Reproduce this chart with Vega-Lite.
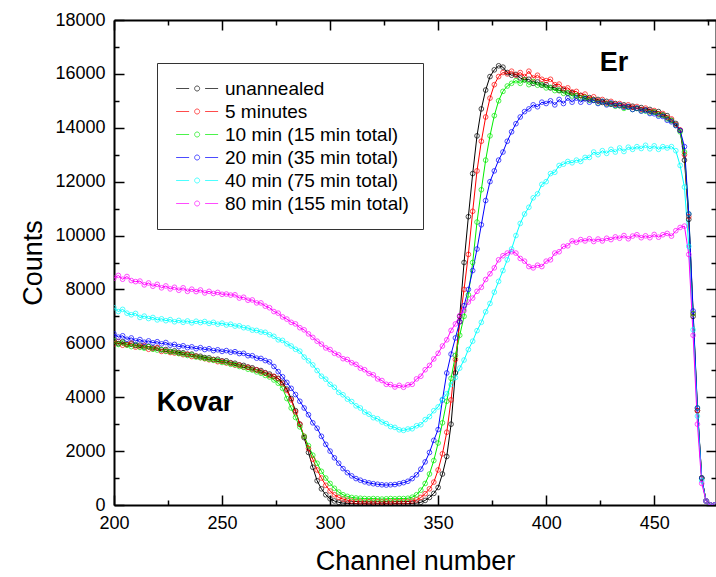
{
  "$schema": "https://vega.github.io/schema/vega-lite/v6.json",
  "width": 602,
  "height": 485,
  "autosize": "none",
  "padding": {"left": 114, "top": 20, "right": 0, "bottom": 72},
  "config": {"view": {"stroke": null}, "font": "Liberation Sans", "axis": {"grid": false}},
  "datasets": {
    "names": [
      {"k": "u", "name": "unannealed"},
      {"k": "r", "name": "5 minutes"},
      {"k": "g", "name": "10 min (15 min total)"},
      {"k": "b", "name": "20 min (35 min total)"},
      {"k": "c", "name": "40 min (75 min total)"},
      {"k": "m", "name": "80 min (155 min total)"}
    ],
    "spectra": [
      {"ch":200,"u":6080,"r":5980,"g":6090,"b":6350,"c":7320,"m":8420},
      {"ch":202,"u":5990,"r":6070,"g":5960,"b":6230,"c":7180,"m":8520},
      {"ch":204,"u":6060,"r":5930,"g":6020,"b":6280,"c":7260,"m":8380},
      {"ch":206,"u":5960,"r":5950,"g":5930,"b":6150,"c":7120,"m":8480},
      {"ch":208,"u":5980,"r":6010,"g":5880,"b":6200,"c":7060,"m":8330},
      {"ch":210,"u":5920,"r":5860,"g":5950,"b":6090,"c":7110,"m":8290},
      {"ch":212,"u":5930,"r":5880,"g":5850,"b":6140,"c":6960,"m":8310},
      {"ch":214,"u":5860,"r":5920,"g":5820,"b":6040,"c":7010,"m":8170},
      {"ch":216,"u":5880,"r":5780,"g":5870,"b":6090,"c":6920,"m":8240},
      {"ch":218,"u":5830,"r":5800,"g":5780,"b":6020,"c":6960,"m":8120},
      {"ch":220,"u":5820,"r":5840,"g":5750,"b":6060,"c":6870,"m":8190},
      {"ch":222,"u":5760,"r":5700,"g":5770,"b":5980,"c":6910,"m":8060},
      {"ch":224,"u":5770,"r":5720,"g":5700,"b":6030,"c":6840,"m":8130},
      {"ch":226,"u":5700,"r":5660,"g":5690,"b":5930,"c":6880,"m":8020},
      {"ch":228,"u":5720,"r":5640,"g":5670,"b":5960,"c":6800,"m":8080},
      {"ch":230,"u":5660,"r":5630,"g":5620,"b":5880,"c":6850,"m":7970},
      {"ch":232,"u":5650,"r":5580,"g":5610,"b":5910,"c":6780,"m":8060},
      {"ch":234,"u":5590,"r":5600,"g":5550,"b":5840,"c":6830,"m":7930},
      {"ch":236,"u":5600,"r":5510,"g":5570,"b":5870,"c":6760,"m":8010},
      {"ch":238,"u":5530,"r":5520,"g":5490,"b":5800,"c":6820,"m":7920},
      {"ch":240,"u":5520,"r":5470,"g":5470,"b":5840,"c":6770,"m":7980},
      {"ch":242,"u":5470,"r":5430,"g":5440,"b":5770,"c":6810,"m":7870},
      {"ch":244,"u":5460,"r":5390,"g":5410,"b":5800,"c":6740,"m":7930},
      {"ch":246,"u":5400,"r":5390,"g":5370,"b":5730,"c":6780,"m":7850},
      {"ch":248,"u":5410,"r":5320,"g":5360,"b":5760,"c":6710,"m":7890},
      {"ch":250,"u":5350,"r":5330,"g":5290,"b":5700,"c":6750,"m":7820},
      {"ch":252,"u":5350,"r":5270,"g":5290,"b":5730,"c":6680,"m":7830},
      {"ch":254,"u":5280,"r":5260,"g":5220,"b":5670,"c":6710,"m":7790},
      {"ch":256,"u":5260,"r":5190,"g":5210,"b":5690,"c":6640,"m":7800},
      {"ch":258,"u":5200,"r":5190,"g":5140,"b":5620,"c":6650,"m":7680},
      {"ch":260,"u":5180,"r":5120,"g":5110,"b":5630,"c":6580,"m":7710},
      {"ch":262,"u":5120,"r":5110,"g":5040,"b":5540,"c":6570,"m":7600},
      {"ch":264,"u":5090,"r":5040,"g":5010,"b":5540,"c":6490,"m":7610},
      {"ch":266,"u":5020,"r":5010,"g":4940,"b":5450,"c":6480,"m":7500},
      {"ch":268,"u":4990,"r":4940,"g":4890,"b":5440,"c":6420,"m":7500},
      {"ch":270,"u":4910,"r":4890,"g":4810,"b":5360,"c":6410,"m":7380},
      {"ch":272,"u":4860,"r":4810,"g":4750,"b":5310,"c":6320,"m":7320},
      {"ch":274,"u":4770,"r":4770,"g":4640,"b":5140,"c":6260,"m":7180},
      {"ch":276,"u":4700,"r":4680,"g":4520,"b":4950,"c":6130,"m":7120},
      {"ch":278,"u":4550,"r":4500,"g":4330,"b":4760,"c":6110,"m":6980},
      {"ch":280,"u":4300,"r":4250,"g":3950,"b":4550,"c":5980,"m":6900},
      {"ch":282,"u":3950,"r":3900,"g":3600,"b":4330,"c":5900,"m":6780},
      {"ch":284,"u":3500,"r":3450,"g":3250,"b":4100,"c":5780,"m":6720},
      {"ch":286,"u":3000,"r":3000,"g":2900,"b":3850,"c":5710,"m":6580},
      {"ch":288,"u":2500,"r":2550,"g":2550,"b":3600,"c":5490,"m":6500},
      {"ch":290,"u":1950,"r":2100,"g":2200,"b":3350,"c":5350,"m":6350},
      {"ch":292,"u":1400,"r":1700,"g":1850,"b":3050,"c":5200,"m":6220},
      {"ch":294,"u":900,"r":1300,"g":1550,"b":2850,"c":4990,"m":6080},
      {"ch":296,"u":600,"r":1000,"g":1250,"b":2550,"c":4780,"m":5970},
      {"ch":298,"u":380,"r":730,"g":1000,"b":2250,"c":4670,"m":5830},
      {"ch":300,"u":230,"r":520,"g":800,"b":2000,"c":4480,"m":5770},
      {"ch":302,"u":150,"r":380,"g":620,"b":1750,"c":4370,"m":5630},
      {"ch":304,"u":100,"r":280,"g":480,"b":1550,"c":4180,"m":5570},
      {"ch":306,"u":70,"r":220,"g":380,"b":1350,"c":4090,"m":5430},
      {"ch":308,"u":60,"r":180,"g":320,"b":1200,"c":3930,"m":5400},
      {"ch":310,"u":50,"r":150,"g":280,"b":1080,"c":3840,"m":5280},
      {"ch":312,"u":50,"r":130,"g":260,"b":980,"c":3680,"m":5220},
      {"ch":314,"u":40,"r":120,"g":250,"b":920,"c":3600,"m":5080},
      {"ch":316,"u":50,"r":110,"g":240,"b":860,"c":3450,"m":5020},
      {"ch":318,"u":40,"r":120,"g":230,"b":820,"c":3370,"m":4880},
      {"ch":320,"u":40,"r":110,"g":240,"b":790,"c":3240,"m":4830},
      {"ch":322,"u":50,"r":120,"g":230,"b":770,"c":3200,"m":4680},
      {"ch":324,"u":40,"r":110,"g":220,"b":750,"c":3080,"m":4620},
      {"ch":326,"u":50,"r":120,"g":230,"b":740,"c":3020,"m":4480},
      {"ch":328,"u":40,"r":110,"g":240,"b":750,"c":2910,"m":4470},
      {"ch":330,"u":50,"r":120,"g":230,"b":760,"c":2880,"m":4380},
      {"ch":332,"u":50,"r":120,"g":240,"b":790,"c":2790,"m":4440},
      {"ch":334,"u":50,"r":120,"g":240,"b":830,"c":2770,"m":4370},
      {"ch":336,"u":50,"r":130,"g":250,"b":880,"c":2820,"m":4460},
      {"ch":338,"u":60,"r":150,"g":290,"b":980,"c":2830,"m":4480},
      {"ch":340,"u":70,"r":190,"g":380,"b":1120,"c":2940,"m":4680},
      {"ch":342,"u":100,"r":280,"g":550,"b":1330,"c":2980,"m":4780},
      {"ch":344,"u":170,"r":420,"g":800,"b":1600,"c":3170,"m":5020},
      {"ch":346,"u":280,"r":600,"g":1150,"b":1950,"c":3280,"m":5180},
      {"ch":348,"u":430,"r":850,"g":1650,"b":2400,"c":3500,"m":5420},
      {"ch":350,"u":650,"r":1300,"g":2300,"b":2800,"c":3640,"m":5630},
      {"ch":352,"u":1150,"r":1900,"g":3050,"b":3900,"c":3920,"m":5900},
      {"ch":354,"u":1800,"r":2700,"g":3850,"b":4900,"c":4130,"m":6130},
      {"ch":356,"u":3000,"r":3900,"g":4700,"b":5600,"c":4470,"m":6480},
      {"ch":358,"u":4900,"r":5400,"g":5550,"b":6200,"c":4730,"m":6720},
      {"ch":360,"u":7000,"r":6800,"g":6300,"b":6800,"c":5080,"m":7030},
      {"ch":362,"u":9000,"r":8000,"g":7000,"b":7400,"c":5380,"m":7220},
      {"ch":364,"u":10700,"r":9300,"g":7800,"b":8000,"c":5770,"m":7530},
      {"ch":366,"u":12300,"r":10900,"g":9000,"b":8700,"c":6080,"m":7680},
      {"ch":368,"u":13700,"r":12400,"g":10500,"b":9500,"c":6470,"m":7930},
      {"ch":370,"u":14700,"r":13500,"g":11700,"b":10400,"c":6780,"m":8080},
      {"ch":372,"u":15400,"r":14400,"g":12800,"b":11300,"c":7170,"m":8370},
      {"ch":374,"u":15900,"r":15100,"g":13700,"b":12000,"c":7480,"m":8580},
      {"ch":376,"u":16150,"r":15600,"g":14450,"b":12400,"c":7900,"m":8800},
      {"ch":378,"u":16300,"r":15900,"g":15000,"b":12800,"c":8300,"m":9100},
      {"ch":380,"u":16250,"r":16050,"g":15350,"b":13100,"c":8700,"m":9250},
      {"ch":382,"u":16050,"r":16000,"g":15550,"b":13500,"c":9100,"m":9350},
      {"ch":384,"u":15950,"r":16100,"g":15650,"b":13850,"c":9500,"m":9400},
      {"ch":386,"u":15980,"r":15950,"g":15750,"b":14150,"c":10000,"m":9350},
      {"ch":388,"u":15850,"r":16050,"g":15650,"b":14400,"c":10450,"m":9150},
      {"ch":390,"u":15780,"r":15900,"g":15780,"b":14600,"c":10800,"m":9050},
      {"ch":392,"u":15800,"r":16100,"g":15600,"b":14700,"c":11050,"m":8850},
      {"ch":394,"u":15650,"r":15850,"g":15720,"b":14850,"c":11400,"m":8800},
      {"ch":396,"u":15700,"r":15950,"g":15580,"b":14780,"c":11550,"m":8900},
      {"ch":398,"u":15580,"r":15800,"g":15600,"b":14950,"c":11900,"m":8850},
      {"ch":400,"u":15600,"r":15750,"g":15480,"b":14900,"c":12000,"m":9050},
      {"ch":402,"u":15480,"r":15800,"g":15500,"b":15000,"c":12300,"m":9100},
      {"ch":404,"u":15500,"r":15600,"g":15380,"b":14850,"c":12350,"m":9350},
      {"ch":406,"u":15380,"r":15620,"g":15400,"b":15050,"c":12600,"m":9400},
      {"ch":408,"u":15400,"r":15450,"g":15280,"b":14900,"c":12650,"m":9600},
      {"ch":410,"u":15280,"r":15480,"g":15300,"b":15100,"c":12750,"m":9620},
      {"ch":412,"u":15300,"r":15330,"g":15180,"b":14950,"c":12700,"m":9800},
      {"ch":414,"u":15180,"r":15350,"g":15200,"b":15100,"c":12800,"m":9750},
      {"ch":416,"u":15200,"r":15200,"g":15100,"b":14950,"c":12750,"m":9850},
      {"ch":418,"u":15080,"r":15250,"g":15130,"b":15080,"c":12900,"m":9800},
      {"ch":420,"u":15120,"r":15080,"g":15020,"b":14950,"c":12900,"m":9880},
      {"ch":422,"u":15020,"r":15150,"g":15040,"b":15020,"c":13100,"m":9780},
      {"ch":424,"u":15050,"r":15000,"g":14920,"b":14900,"c":13000,"m":9870},
      {"ch":426,"u":14940,"r":15050,"g":14980,"b":14980,"c":13150,"m":9800},
      {"ch":428,"u":14980,"r":14920,"g":14880,"b":14850,"c":13050,"m":9900},
      {"ch":430,"u":14870,"r":14980,"g":14900,"b":14920,"c":13200,"m":9850},
      {"ch":432,"u":14900,"r":14870,"g":14800,"b":14830,"c":13100,"m":9950},
      {"ch":434,"u":14820,"r":14900,"g":14830,"b":14850,"c":13250,"m":9900},
      {"ch":436,"u":14850,"r":14800,"g":14720,"b":14760,"c":13120,"m":10000},
      {"ch":438,"u":14770,"r":14850,"g":14770,"b":14790,"c":13280,"m":9880},
      {"ch":440,"u":14800,"r":14760,"g":14680,"b":14680,"c":13200,"m":9980},
      {"ch":442,"u":14720,"r":14790,"g":14720,"b":14730,"c":13300,"m":10030},
      {"ch":444,"u":14750,"r":14680,"g":14630,"b":14620,"c":13230,"m":9920},
      {"ch":446,"u":14670,"r":14730,"g":14620,"b":14640,"c":13350,"m":9990},
      {"ch":448,"u":14680,"r":14620,"g":14560,"b":14530,"c":13220,"m":9920},
      {"ch":450,"u":14590,"r":14640,"g":14580,"b":14520,"c":13330,"m":10040},
      {"ch":452,"u":14600,"r":14520,"g":14480,"b":14430,"c":13200,"m":9940},
      {"ch":454,"u":14480,"r":14530,"g":14460,"b":14420,"c":13300,"m":10030},
      {"ch":456,"u":14450,"r":14380,"g":14330,"b":14280,"c":13250,"m":10080},
      {"ch":458,"u":14280,"r":14330,"g":14260,"b":14220,"c":13300,"m":9980},
      {"ch":460,"u":14160,"r":14120,"g":14090,"b":14080,"c":13150,"m":10180},
      {"ch":462,"u":13900,"r":13920,"g":13850,"b":13900,"c":12600,"m":10300},
      {"ch":464,"u":12800,"r":13000,"g":13100,"b":13300,"c":11800,"m":10350},
      {"ch":466,"u":10600,"r":10700,"g":10800,"b":10800,"c":9600,"m":9300},
      {"ch":468,"u":7000,"r":7100,"g":7100,"b":7200,"c":6500,"m":6300},
      {"ch":470,"u":3500,"r":3500,"g":3600,"b":3600,"c":3300,"m":3000},
      {"ch":472,"u":1000,"r":1000,"g":1000,"b":1000,"c":900,"m":800},
      {"ch":474,"u":150,"r":150,"g":150,"b":150,"c":150,"m":150},
      {"ch":476,"u":0,"r":0,"g":0,"b":0,"c":0,"m":0},
      {"ch":478,"u":0,"r":0,"g":0,"b":0,"c":0,"m":0}
    ],
    "annotations": [
      {"t": "Er", "x": 431.4, "y": 16400},
      {"t": "Kovar", "x": 237.5, "y": 3790}
    ]
  },
  "layer": [
    {
      "data": {"name": "spectra"},
      "transform": [
        {"fold": ["u", "r", "g", "b", "c", "m"], "as": ["k", "counts"]},
        {"lookup": "k", "from": {"data": {"name": "names"}, "key": "k", "fields": ["name"]}}
      ],
      "mark": {"type": "line", "strokeWidth": 1, "clip": true},
      "encoding": {
        "x": {
          "field": "ch", "type": "quantitative",
          "scale": {"domain": [200, 478.6], "nice": false, "zero": false},
          "axis": {
            "orient": "bottom",
            "values": [200,225,250,275,300,325,350,375,400,425,450,475],
            "labelExpr": "datum.value % 50 === 0 ? datum.label : ''",
            "tickSize": {"condition": {"test": "datum.value % 50 === 0", "value": -10}, "value": -5},
            "labelPadding": 19,
            "labelFontSize": 18, "labelColor": "black", "labelFont": "Liberation Sans",
            "labelOverlap": false, "labelFlush": false,
            "tickColor": "black", "tickWidth": 1.5,
            "domainColor": "black", "domainWidth": 2,
            "title": "Channel number", "titleFontSize": 27, "titleFontWeight": "normal",
            "titleColor": "black", "titleFont": "Liberation Sans", "titlePadding": 11
          }
        },
        "y": {
          "field": "counts", "type": "quantitative",
          "scale": {"domain": [0, 18000], "nice": false},
          "axis": {
            "orient": "left",
            "values": [0,1000,2000,3000,4000,5000,6000,7000,8000,9000,10000,11000,12000,13000,14000,15000,16000,17000,18000],
            "format": "d",
            "labelExpr": "datum.value % 2000 === 0 ? datum.label : ''",
            "tickSize": {"condition": {"test": "datum.value % 2000 === 0", "value": -10}, "value": -5},
            "labelPadding": 19,
            "labelFontSize": 18, "labelColor": "black", "labelFont": "Liberation Sans",
            "labelOverlap": false, "labelFlush": false,
            "tickColor": "black", "tickWidth": 1.5,
            "domainColor": "black", "domainWidth": 2,
            "title": "Counts", "titleFontSize": 27, "titleFontWeight": "normal",
            "titleColor": "black", "titleFont": "Liberation Sans", "titlePadding": 7
          }
        },
        "color": {
          "field": "name", "type": "nominal",
          "scale": {
            "domain": ["unannealed", "5 minutes", "10 min (15 min total)", "20 min (35 min total)", "40 min (75 min total)", "80 min (155 min total)"],
            "range": ["#000000", "#ff0000", "#00ee00", "#0000ff", "#00ffff", "#ff00ff"]
          },
          "legend": {
            "orient": "none", "legendX": 43, "legendY": 43,
            "title": null,
            "symbolType": "M-0.78,0L-0.16,0M0.6,0L1.22,0M0.34,0A0.12,0.12,0,1,1,0.1,0A0.12,0.12,0,1,1,0.34,0",
            "symbolSize": 1764, "symbolStrokeWidth": 1, "symbolFillColor": "transparent",
            "clipHeight": 23, "rowPadding": 0,
            "labelFontSize": 19, "labelFont": "Liberation Sans", "labelColor": "black",
            "labelOffset": 11, "labelLimit": 400,
            "padding": 14, "strokeColor": "#333333"
          }
        }
      }
    },
    {
      "data": {"name": "spectra"},
      "transform": [
        {"fold": ["u", "r", "g", "b", "c", "m"], "as": ["k", "counts"]},
        {"lookup": "k", "from": {"data": {"name": "names"}, "key": "k", "fields": ["name"]}}
      ],
      "mark": {"type": "point", "filled": false, "size": 22, "strokeWidth": 1, "clip": true},
      "encoding": {
        "x": {
          "field": "ch", "type": "quantitative",
          "axis": {
            "orient": "top",
            "values": [200,225,250,275,300,325,350,375,400,425,450,475],
            "labels": false, "title": null,
            "tickSize": {"condition": {"test": "datum.value % 50 === 0", "value": -10}, "value": -5},
            "tickColor": "black", "tickWidth": 1.5,
            "domainColor": "black", "domainWidth": 2
          }
        },
        "y": {
          "field": "counts", "type": "quantitative",
          "axis": {
            "orient": "right",
            "values": [0,1000,2000,3000,4000,5000,6000,7000,8000,9000,10000,11000,12000,13000,14000,15000,16000,17000,18000],
            "labels": false, "title": null,
            "tickSize": {"condition": {"test": "datum.value % 2000 === 0", "value": -10}, "value": -5},
            "tickColor": "black", "tickWidth": 1.5,
            "domainColor": "black", "domainWidth": 2
          }
        },
        "color": {
          "field": "name", "type": "nominal",
          "legend": {
            "orient": "none", "legendX": 43, "legendY": 43,
            "title": null,
            "symbolType": "M-0.78,0L-0.16,0M0.6,0L1.22,0M0.34,0A0.12,0.12,0,1,1,0.1,0A0.12,0.12,0,1,1,0.34,0",
            "symbolSize": 1764, "symbolStrokeWidth": 1, "symbolFillColor": "transparent",
            "clipHeight": 23, "rowPadding": 0,
            "labelFontSize": 19, "labelFont": "Liberation Sans", "labelColor": "black",
            "labelOffset": 11, "labelLimit": 400,
            "padding": 14, "strokeColor": "#333333"
          }
        }
      }
    },
    {
      "data": {"name": "annotations"},
      "mark": {"type": "text", "fontSize": 27, "fontWeight": "bold", "font": "Liberation Sans", "color": "black", "align": "center", "baseline": "middle"},
      "encoding": {
        "x": {"field": "x", "type": "quantitative", "axis": null},
        "y": {"field": "y", "type": "quantitative", "axis": null},
        "text": {"field": "t"}
      }
    }
  ],
  "resolve": {"axis": {"x": "independent", "y": "independent"}}
}
